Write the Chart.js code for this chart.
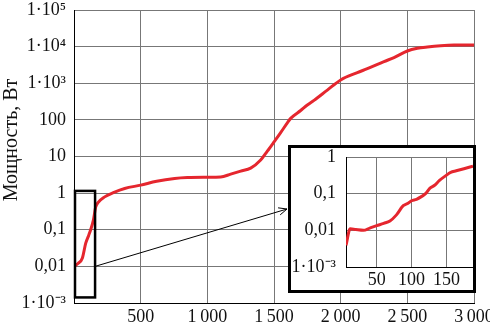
<!DOCTYPE html>
<html><head><meta charset="utf-8">
<script src="https://cdn.jsdelivr.net/npm/chart.js@4"></script>
<style>
html,body{margin:0;padding:0;background:#fff;}
#wrap{position:relative;width:490px;height:328px;overflow:hidden;}
#main{position:absolute;left:0;top:0;}
#insetBox{position:absolute;left:288px;top:145px;width:182px;height:142px;border:3px solid #000;background:#fff;}
#inset{display:block;}
</style></head><body>
<div id="wrap"><canvas id="main" width="490" height="328"></canvas>
<div id="insetBox"><canvas id="inset" width="182" height="142"></canvas></div></div>
<script>
// ---- data ----
const mainX = [0, 30, 63, 88, 110, 125, 145, 163, 180, 230, 300, 380, 500, 620, 755, 850, 1000, 1100, 1175, 1250, 1325, 1400, 1450, 1500, 1550, 1600, 1625, 1700, 1750, 1800, 1900, 2000, 2125, 2200, 2325, 2400, 2500, 2575, 2650, 2750, 2850, 3000];
const mainY = [0.01, 0.012, 0.017, 0.043, 0.07, 0.1, 0.18, 0.42, 0.55, 0.79, 1.05, 1.34, 1.65, 2.1, 2.5, 2.65, 2.7, 2.75, 3.3, 4.0, 4.8, 8, 14, 25, 45, 83, 110, 180, 255, 340, 650, 1230, 1950, 2500, 3900, 5000, 7600, 9000, 9800, 10600, 11000, 11000];
const insetX = [6, 12, 20, 31, 40, 50, 60, 69, 78, 88, 95, 100, 107, 114, 120, 126, 133, 140, 149, 156, 164, 175, 188];
const insetY = [0.0039, 0.011, 0.0105, 0.010, 0.0115, 0.0134, 0.0155, 0.018, 0.026, 0.047, 0.055, 0.064, 0.07, 0.083, 0.1, 0.14, 0.17, 0.23, 0.31, 0.38, 0.42, 0.48, 0.56];
const mainYTicks = [1e-3, 0.01, 0.1, 1, 10, 100, 1e3, 1e4, 1e5];
const mainYLabels = ['1·10⁻³', '0,01', '0,1', '1', '10', '100', '1·10³', '1·10⁴', '1·10⁵'];
const mainXTicks = [0, 500, 1000, 1500, 2000, 2500, 3000];
const mainXLabels = ['', '500', '1\u2009000', '1\u2009500', '2\u2009000', '2\u2009500', '3\u2009000'];
const insetYTicks = [1e-3, 0.01, 0.1, 1];
const insetYLabels = ['1·10⁻³', '0,01', '0,1', '1'];
const insetXTicks = [50, 100, 150];
const insetXLabels = ['50', '100', '150'];
const yTitle = 'Мощность, Вт';
// zoom rectangle (data coords) shown on main chart
const zoomRectX = [0, 158];
const zoomRectY = [0.00142, 1.15];

const FONT = "'Liberation Serif', 'Times New Roman', serif";
const RED = '#e5262e';
const GRID = '#777777';

function pts(xs, ys) { return xs.map((x, i) => ({x: x, y: ys[i]})); }

const mainOverlay = {
  id: 'mainOverlay',
  afterDatasetsDraw(chart) {
    const ctx = chart.ctx, xs = chart.scales.x, ys = chart.scales.y;
    const x0 = xs.getPixelForValue(zoomRectX[0]), x1 = xs.getPixelForValue(zoomRectX[1]);
    const y0 = ys.getPixelForValue(zoomRectY[1]), y1 = ys.getPixelForValue(zoomRectY[0]);
    ctx.save();
    ctx.strokeStyle = '#000';
    ctx.lineWidth = 2.5;
    ctx.strokeRect(x0 + 1, y0, x1 - x0 - 1, y1 - y0);
    // arrow to inset
    const sx = x1, sy = ys.getPixelForValue(0.01);
    const ex = 287, ey = 209;
    ctx.lineWidth = 1;
    ctx.beginPath(); ctx.moveTo(sx, sy); ctx.lineTo(ex, ey); ctx.stroke();
    const ang = Math.atan2(ey - sy, ex - sx), L = 9, A = 0.42;
    ctx.beginPath();
    ctx.moveTo(ex - L * Math.cos(ang - A), ey - L * Math.sin(ang - A));
    ctx.lineTo(ex, ey);
    ctx.lineTo(ex - L * Math.cos(ang + A), ey - L * Math.sin(ang + A));
    ctx.stroke();
    ctx.restore();
  },
  afterDraw(chart) {
    const ctx = chart.ctx;
    ctx.save();
    ctx.translate(12, 140);
    ctx.rotate(-Math.PI / 2);
    ctx.font = '20px ' + FONT;
    ctx.fillStyle = '#111';
    ctx.textAlign = 'center';
    ctx.textBaseline = 'middle';
    ctx.fillText(yTitle, 0, 0);
    ctx.restore();
  }
};

new Chart(document.getElementById('main'), {
  type: 'line',
  data: { datasets: [{ data: pts(mainX, mainY), borderColor: RED, borderWidth: 3, pointRadius: 0, cubicInterpolationMode: 'monotone', fill: false }] },
  options: {
    responsive: false, animation: false, devicePixelRatio: 1,
    layout: { padding: { top: 10, right: 16, left: 0, bottom: 0 } },
    plugins: { legend: { display: false }, tooltip: { enabled: false } },
    scales: {
      x: {
        type: 'linear', min: 0, max: 3000,
        afterBuildTicks: s => { s.ticks = mainXTicks.map(v => ({ value: v })); },
        afterFit: s => { s.height = 25; s.paddingLeft = 0; s.paddingRight = 0; },
        grid: { color: GRID, lineWidth: 1, drawTicks: false },
        border: { color: '#000', width: 1 },
        ticks: { autoSkip: false, maxRotation: 0, padding: 3, color: '#111', font: { family: FONT, size: 18 },
          callback: v => mainXLabels[mainXTicks.indexOf(v)] }
      },
      y: {
        type: 'logarithmic', min: 1e-3, max: 1e5,
        afterBuildTicks: s => { s.ticks = mainYTicks.map(v => ({ value: v })); },
        afterFit: s => { s.width = 74; s.paddingTop = 0; s.paddingBottom = 0; },
        grid: { color: GRID, lineWidth: 1, drawTicks: false },
        border: { color: '#000', width: 1 },
        ticks: { autoSkip: false, padding: 8, color: '#111', font: { family: FONT, size: 18 },
          callback: v => { const i = mainYTicks.findIndex(t => Math.abs(t - v) / t < 1e-6); return i >= 0 ? mainYLabels[i] : ''; } }
      }
    }
  },
  plugins: [mainOverlay]
});

new Chart(document.getElementById('inset'), {
  type: 'line',
  data: { datasets: [{ data: pts(insetX, insetY), borderColor: RED, borderWidth: 3, pointRadius: 0, cubicInterpolationMode: 'monotone', fill: false }] },
  options: {
    responsive: false, animation: false, devicePixelRatio: 1,
    layout: { padding: { top: 9, right: 0, left: 0, bottom: 0 } },
    plugins: { legend: { display: false }, tooltip: { enabled: false } },
    scales: {
      x: {
        type: 'linear', min: 6, max: 188,
        afterBuildTicks: s => { s.ticks = insetXTicks.map(v => ({ value: v })); },
        afterFit: s => { s.height = 23; s.paddingLeft = 0; s.paddingRight = 0; },
        grid: { color: GRID, lineWidth: 1, drawTicks: false },
        border: { color: '#000', width: 1 },
        ticks: { autoSkip: false, maxRotation: 0, padding: 2, color: '#111', font: { family: FONT, size: 18 },
          callback: v => insetXLabels[insetXTicks.indexOf(v)] }
      },
      y: {
        type: 'logarithmic', min: 1e-3, max: 1,
        afterBuildTicks: s => { s.ticks = insetYTicks.map(v => ({ value: v })); },
        afterFit: s => { s.width = 55; s.paddingTop = 0; s.paddingBottom = 0; },
        grid: { color: GRID, lineWidth: 1, drawTicks: false },
        border: { color: '#000', width: 1 },
        ticks: { autoSkip: false, padding: 10, color: '#111', font: { family: FONT, size: 18 },
          callback: v => { const i = insetYTicks.findIndex(t => Math.abs(t - v) / t < 1e-6); return i >= 0 ? insetYLabels[i] : ''; } }
      }
    }
  }
});
</script>
</body></html>
